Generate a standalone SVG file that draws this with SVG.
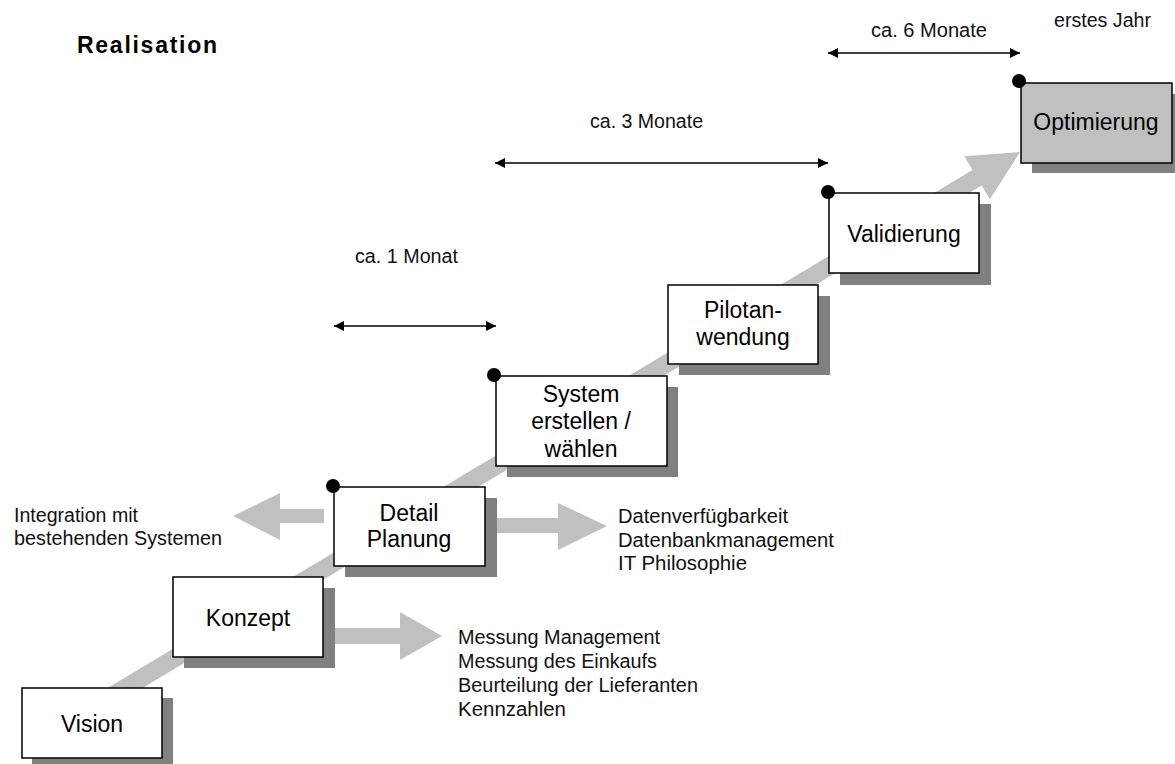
<svg xmlns="http://www.w3.org/2000/svg" width="1175" height="764" viewBox="0 0 1175 764">
<defs>
<marker id="ah" viewBox="0 0 10 10" refX="10" refY="5" markerWidth="10" markerHeight="10" markerUnits="userSpaceOnUse" orient="auto-start-reverse">
<path d="M0,0 L10,5 L0,10 Z" fill="#000"/>
</marker>
<style>
.box{fill:#fff;stroke:#000;stroke-width:1.5}
.opt{fill:#c0c0c0;stroke:#000;stroke-width:1.5}
.sh{fill:#808080}
.ga{fill:#c0c0c0}
.lbl{font-family:"Liberation Sans",Arial,sans-serif;font-size:23px;fill:#000;text-anchor:middle}
.sm{font-family:"Liberation Sans",Arial,sans-serif;font-size:20px;fill:#111}
.title{font-family:"Liberation Sans",Arial,sans-serif;font-size:23px;font-weight:bold;fill:#000}
.dim{stroke:#000;stroke-width:1.5;fill:none}
.dot{fill:#000}
</style>
</defs>
<rect width="1175" height="764" fill="#fff"/>

<text class="title" x="77" y="53" textLength="140" lengthAdjust="spacing">Realisation</text>

<g id="connectors">
<polygon class="ga" points="95.4,695.3 972.5,170 964.3,156.2 1020,152 989.9,199.2 981.7,185.4 104.6,710.7"/>
<polygon class="ga" points="324,509 280,509 280,493 233,516 280,540 280,523 324,523"/>
<polygon class="ga" points="497,518 558,518 558,503 607,526 558,550 558,533 497,533"/>
<polygon class="ga" points="335,628 400,628 400,612 442,636 400,660 400,644 335,644"/>
<line class="dim" x1="334" y1="326" x2="496" y2="326" marker-start="url(#ah)" marker-end="url(#ah)"/>
<line class="dim" x1="495" y1="163" x2="828" y2="163" marker-start="url(#ah)" marker-end="url(#ah)"/>
<line class="dim" x1="828" y1="53" x2="1020" y2="53" marker-start="url(#ah)" marker-end="url(#ah)"/>
</g>

<g id="vision">
<rect class="sh" x="32" y="698" width="141" height="70"/>
<rect class="box" x="22" y="688" width="140" height="70"/>
<text class="lbl" x="92" y="732">Vision</text>
</g>

<g id="konzept">
<rect class="sh" x="184" y="588" width="151" height="80"/>
<rect class="box" x="173" y="577" width="150" height="80"/>
<text class="lbl" x="248" y="626">Konzept</text>
</g>

<g id="detail">
<rect class="sh" x="345" y="498" width="152" height="79"/>
<rect class="box" x="334" y="487" width="151" height="79"/>
<text class="lbl" x="409" y="521">Detail</text>
<text class="lbl" x="409" y="547">Planung</text>
<circle class="dot" cx="333" cy="486" r="7"/>
</g>

<g id="system">
<rect class="sh" x="507" y="387" width="171" height="90"/>
<rect class="box" x="496" y="376" width="171" height="90"/>
<text class="lbl" x="581" y="402">System</text>
<text class="lbl" x="581" y="429">erstellen /</text>
<text class="lbl" x="581" y="457">wählen</text>
<circle class="dot" cx="494" cy="375" r="7"/>
</g>

<g id="pilot">
<rect class="sh" x="679" y="296" width="151" height="79"/>
<rect class="box" x="668" y="285" width="150" height="79"/>
<text class="lbl" x="743" y="318">Pilotan-</text>
<text class="lbl" x="743" y="345">wendung</text>
</g>

<g id="validierung">
<rect class="sh" x="840" y="204" width="151" height="81"/>
<rect class="box" x="829" y="193" width="150" height="80"/>
<text class="lbl" x="904" y="242">Validierung</text>
<circle class="dot" cx="828" cy="192" r="7"/>
</g>

<g id="optimierung">
<rect class="sh" x="1032" y="94" width="150" height="79"/>
<rect class="opt" x="1021" y="83" width="151" height="80"/>
<text class="lbl" x="1096" y="130">Optimierung</text>
<circle class="dot" cx="1019" cy="81" r="7"/>
</g>

<g id="labels">
<text class="sm" x="355" y="263" textLength="103" lengthAdjust="spacingAndGlyphs">ca. 1 Monat</text>
<text class="sm" x="590" y="128" textLength="113" lengthAdjust="spacingAndGlyphs">ca. 3 Monate</text>
<text class="sm" x="871" y="37" textLength="116" lengthAdjust="spacingAndGlyphs">ca. 6 Monate</text>
<text class="sm" x="1054" y="27" textLength="97" lengthAdjust="spacingAndGlyphs">erstes Jahr</text>
<text class="sm" x="14" y="522" textLength="124" lengthAdjust="spacingAndGlyphs">Integration mit</text>
<text class="sm" x="14" y="545" textLength="208" lengthAdjust="spacingAndGlyphs">bestehenden Systemen</text>
<text class="sm" x="618" y="523" textLength="170" lengthAdjust="spacingAndGlyphs">Datenverfügbarkeit</text>
<text class="sm" x="618" y="547" textLength="216" lengthAdjust="spacingAndGlyphs">Datenbankmanagement</text>
<text class="sm" x="618" y="570" textLength="129" lengthAdjust="spacingAndGlyphs">IT Philosophie</text>
<text class="sm" x="458" y="644" textLength="202" lengthAdjust="spacingAndGlyphs">Messung Management</text>
<text class="sm" x="458" y="668" textLength="199" lengthAdjust="spacingAndGlyphs">Messung des Einkaufs</text>
<text class="sm" x="458" y="692" textLength="240" lengthAdjust="spacingAndGlyphs">Beurteilung der Lieferanten</text>
<text class="sm" x="458" y="716" textLength="108" lengthAdjust="spacingAndGlyphs">Kennzahlen</text>
</g>
</svg>
